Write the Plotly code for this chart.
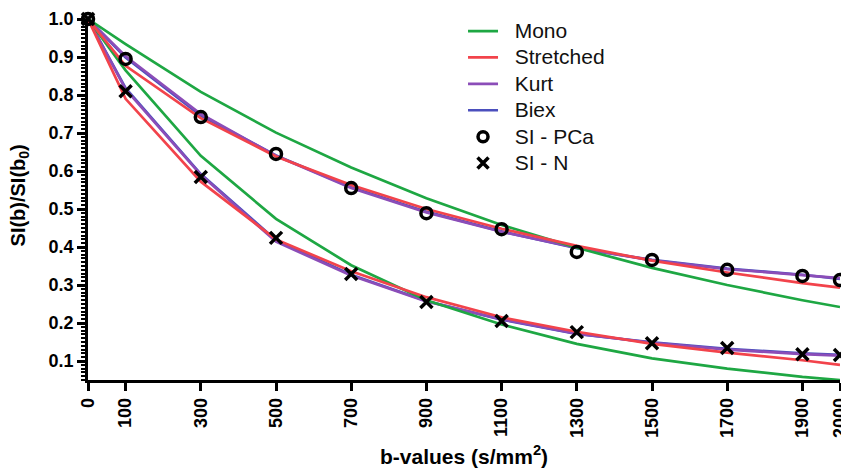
import plotly.graph_objects as go

b_values = [0, 100, 300, 500, 700, 900, 1100, 1300, 1500, 1700, 1900, 2000]

# measured signal
si_pca = [1.0, 0.895, 0.742, 0.645, 0.555, 0.489, 0.447, 0.387, 0.366, 0.340, 0.324, 0.313]
si_n = [1.0, 0.810, 0.584, 0.424, 0.329, 0.255, 0.205, 0.176, 0.147, 0.134, 0.118, 0.116]

# model fits, PCa
mono_pca = [1.0, 0.934, 0.808, 0.701, 0.609, 0.528, 0.458, 0.398, 0.345, 0.300, 0.260, 0.242]
stretched_pca = [1.0, 0.877, 0.739, 0.638, 0.563, 0.500, 0.448, 0.403, 0.364, 0.333, 0.305, 0.293]
kurt_pca = [1.0, 0.902, 0.750, 0.640, 0.555, 0.491, 0.440, 0.398, 0.365, 0.342, 0.326, 0.318]
biex_pca = [1.0, 0.899, 0.746, 0.641, 0.557, 0.493, 0.441, 0.397, 0.366, 0.343, 0.327, 0.316]

# model fits, N
mono_n = [1.0, 0.865, 0.640, 0.474, 0.352, 0.260, 0.196, 0.145, 0.107, 0.080, 0.058, 0.050]
stretched_n = [1.0, 0.790, 0.572, 0.420, 0.336, 0.268, 0.215, 0.177, 0.145, 0.122, 0.102, 0.090]
kurt_n = [1.0, 0.815, 0.590, 0.414, 0.325, 0.257, 0.210, 0.172, 0.148, 0.130, 0.118, 0.114]
biex_n = [1.0, 0.818, 0.592, 0.418, 0.327, 0.258, 0.209, 0.171, 0.149, 0.132, 0.120, 0.116]

x_ticks = [0, 100, 300, 500, 700, 900, 1100, 1300, 1500, 1700, 1900, 2000]
y_ticks = [0.1, 0.2, 0.3, 0.4, 0.5, 0.6, 0.7, 0.8, 0.9, 1.0]

GREEN = "#1ea743"
RED = "#f2434b"
PURPLE = "#8b4db8"
BLUE = "#4b4fbd"

fig = go.Figure()

def add_line(y, color, name):
    fig.add_trace(go.Scatter(
        x=b_values, y=y, mode="lines", name=name, showlegend=False,
        line=dict(color=color, width=2.7), cliponaxis=False))

add_line(biex_pca, BLUE, "Biex")
add_line(biex_n, BLUE, "Biex")
add_line(kurt_pca, PURPLE, "Kurt")
add_line(kurt_n, PURPLE, "Kurt")
add_line(mono_pca, GREEN, "Mono")
add_line(mono_n, GREEN, "Mono")
add_line(stretched_pca, RED, "Stretched")
add_line(stretched_n, RED, "Stretched")

fig.add_trace(go.Scatter(
    x=b_values, y=si_pca, mode="markers", name="SI - PCa", showlegend=False,
    marker=dict(symbol="circle-open", size=11, color="black", line=dict(width=3.5)),
    cliponaxis=False))
fig.add_trace(go.Scatter(
    x=b_values, y=si_n, mode="markers", name="SI - N", showlegend=False,
    marker=dict(symbol="x-thin-open", size=12, color="black", line=dict(width=3.5)),
    cliponaxis=False))


def legend_label(text):
    return '<span style="font-size:21px">\u00a0\u00a0' + text + "</span>"


# legend entries in the reference order
for name, color in [("Mono", GREEN), ("Stretched", RED), ("Kurt", PURPLE), ("Biex", BLUE)]:
    fig.add_trace(go.Scatter(x=[None], y=[None], mode="lines", name=legend_label(name),
                             line=dict(color=color, width=2.7)))
fig.add_trace(go.Scatter(x=[None], y=[None], mode="markers", name=legend_label("SI - PCa"),
                         marker=dict(symbol="circle-open", size=10, color="black", line=dict(width=3.5))))
fig.add_trace(go.Scatter(x=[None], y=[None], mode="markers", name=legend_label("SI - N"),
                         marker=dict(symbol="x-thin-open", size=11, color="black", line=dict(width=3.5))))

# the page body has an 8px default margin, so the figure is 8px smaller
fig.update_layout(
    width=841, height=467,
    margin=dict(l=80, r=9, t=11, b=95, autoexpand=False),
    plot_bgcolor="white", paper_bgcolor="white",
    font=dict(family="Liberation Sans, Arial, sans-serif", color="black"),
    showlegend=True,
    legend=dict(x=0.4987, y=1.017, xanchor="left", yanchor="top",
                font=dict(size=18, color="#111"), bgcolor="rgba(0,0,0,0)",
                tracegroupgap=0, itemwidth=30, traceorder="normal"),
    xaxis=dict(
        range=[0, 2000], tickmode="array", tickvals=x_ticks,
        ticktext=[str(v) for v in x_ticks], tickangle=-90,
        ticks="outside", ticklen=8, tickwidth=2.5, tickcolor="black",
        showline=True, linecolor="black", linewidth=2.5,
        showgrid=False, zeroline=False, automargin=False,
        ticklabeloverflow="allow",
        tickfont=dict(size=18, weight="bold"),
    ),
    yaxis=dict(
        range=[0.05, 1.0], tickmode="array", tickvals=y_ticks,
        ticktext=[f"{v:.1f}" for v in y_ticks],
        ticks="outside", ticklen=8, tickwidth=2.5, tickcolor="black",
        showline=True, linecolor="black", linewidth=2.5,
        showgrid=False, zeroline=False, automargin=False,
        tickfont=dict(size=18, weight="bold"),
        minor=dict(dtick=0.01, tick0=0.0, ticks="outside", ticklen=4, tickwidth=1.5, tickcolor="black"),
    ),
    annotations=[
        dict(text="SI(b)/SI(b<sub>0</sub>)", textangle=-90, showarrow=False,
             xref="paper", yref="paper", x=-0.091, y=0.51, xanchor="center", yanchor="middle",
             font=dict(size=20, weight="bold")),
        dict(text="b-values (s/mm<sup>2</sup>)", showarrow=False,
             xref="paper", yref="paper", x=0.5, y=-0.208, xanchor="center", yanchor="middle",
             font=dict(size=21, weight="bold")),
    ],
)

fig.write_html("out.html")
